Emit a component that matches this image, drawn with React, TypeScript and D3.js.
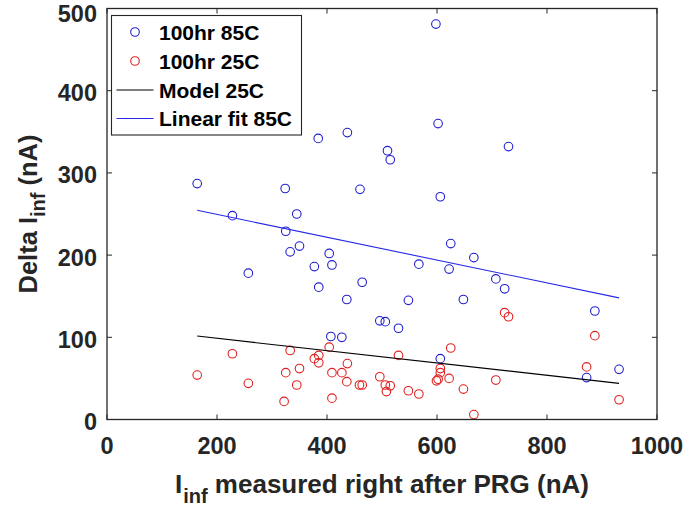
import React from "react";
import * as d3 from "d3";

const blue85x = [598, 602, 437, 384, 730, 510, 515, 164, 324, 460, 606, 345, 228, 325, 625, 350, 333, 404, 667, 409, 567, 377, 622, 257, 707, 464, 385, 723, 436, 548, 648, 887, 496, 506, 530, 407, 427, 606, 931, 872];
const blue85y = [481, 360, 349, 342, 332, 327, 316, 287, 281, 280, 271, 250, 248, 229, 214, 211, 204, 202, 197, 188, 189, 186, 183, 178, 171, 167, 161, 159, 146, 145, 146, 132, 120, 119, 111, 101, 100, 74, 61, 51];
const red25x = [164, 228, 257, 322, 325, 333, 345, 350, 377, 385, 385, 404, 409, 409, 427, 436, 437, 459, 464, 496, 506, 508, 515, 530, 548, 567, 599, 602, 606, 606, 622, 625, 648, 667, 707, 723, 730, 872, 887, 931];
const red25y = [54, 80, 44, 22, 57, 84, 42, 62, 74, 78, 69, 88, 57, 26, 57, 46, 68, 42, 42, 52, 42, 34, 41, 78, 35, 31, 47, 49, 57, 62, 50, 87, 37, 6, 48, 130, 125, 64, 102, 24];
const modelX = [164, 931];
const modelY = [101.5, 44];
const fitX = [164, 931];
const fitY = [254.5, 148];
const xTicks = [0, 200, 400, 600, 800, 1000];
const yTicks = [0, 100, 200, 300, 400, 500];
const legendLabels = ["100hr 85C", "100hr 25C", "Model 25C", "Linear fit 85C"];

const BLUE = "#1f1fd0";
const RED = "#e02020";
const LINEBLUE = "#2828e8";
const AX = "#262626";
const FONT = "'Liberation Sans', Arial, Helvetica, sans-serif";

export default function App() {
  const W = 685, H = 508;
  const x = d3.scaleLinear().domain([0, 1000]).range([107, 657]);
  const y = d3.scaleLinear().domain([0, 500]).range([419.5, 8.5]);
  const line = d3.line<[number, number]>().x((d) => x(d[0])).y((d) => y(d[1]));
  const modelPts = modelX.map((v, i) => [v, modelY[i]] as [number, number]);
  const fitPts = fitX.map((v, i) => [v, fitY[i]] as [number, number]);
  const tk = 5;
  const [x0, x1] = x.range();
  const [y0, y1] = y.range();
  const legX = 111.5, legY = 15.5, legW = 190, legH = 119.5;
  const rowY = [32, 61, 90, 118.5];

  return (
    <svg width={W} height={H} style={{ position: "absolute", left: 0, top: 0, background: "#fff" }} fontFamily={FONT}>
      <rect width={W} height={H} fill="#fff" />
      {/* data */}
      {blue85x.map((v, i) => (
        <circle key={"b" + i} cx={x(v)} cy={y(blue85y[i])} r={4.3} fill="none" stroke={BLUE} strokeWidth={1.1} />
      ))}
      {red25x.map((v, i) => (
        <circle key={"r" + i} cx={x(v)} cy={y(red25y[i])} r={4.3} fill="none" stroke={RED} strokeWidth={1.1} />
      ))}
      <path d={line(modelPts) || ""} fill="none" stroke="#000" strokeWidth={1.1} />
      <path d={line(fitPts) || ""} fill="none" stroke={LINEBLUE} strokeWidth={1.1} />
      {/* frame */}
      <rect x={x0} y={y1} width={x1 - x0} height={y0 - y1} fill="none" stroke={AX} strokeWidth={1.3} />
      {xTicks.map((t) => (
        <g key={"xt" + t}>
          <line x1={x(t)} x2={x(t)} y1={y0} y2={y0 - tk} stroke={AX} strokeWidth={1} />
          <line x1={x(t)} x2={x(t)} y1={y1} y2={y1 + tk} stroke={AX} strokeWidth={1} />
          <text x={x(t)} y={454} textAnchor="middle" fontSize={23.5} fontWeight="bold" fill={AX}>{t}</text>
        </g>
      ))}
      {yTicks.map((t) => (
        <g key={"yt" + t}>
          <line x1={x0} x2={x0 + tk} y1={y(t)} y2={y(t)} stroke={AX} strokeWidth={1} />
          <line x1={x1} x2={x1 - tk} y1={y(t)} y2={y(t)} stroke={AX} strokeWidth={1} />
          <text x={97} y={Math.max(y(t) + 10.5, 21.5)} textAnchor="end" fontSize={23.5} fontWeight="bold" fill={AX}>{t}</text>
        </g>
      ))}
      {/* axis labels */}
      <text x={(x0 + x1) / 2} y={493} textAnchor="middle" fontSize={26} fontWeight="bold" fill={AX}>
        <tspan>I</tspan>
        <tspan dy={10} dx={1} fontSize={20}>inf</tspan>
        <tspan dy={-10}> measured right after PRG (nA)</tspan>
      </text>
      <text transform={`translate(37,${(y0 + y1) / 2}) rotate(-90)`} textAnchor="middle" fontSize={25.5} fontWeight="bold" fill={AX}>
        <tspan>Delta I</tspan>
        <tspan dy={8} fontSize={20}>inf</tspan>
        <tspan dy={-8}> (nA)</tspan>
      </text>
      {/* legend */}
      <rect x={legX} y={legY} width={legW} height={legH} fill="#fff" stroke={AX} strokeWidth={1.1} />
      <circle cx={135} cy={rowY[0]} r={4.3} fill="none" stroke={BLUE} strokeWidth={1.1} />
      <circle cx={135} cy={rowY[1]} r={4.3} fill="none" stroke={RED} strokeWidth={1.1} />
      <line x1={116.5} x2={153.5} y1={rowY[2]} y2={rowY[2]} stroke="#000" strokeWidth={1.1} />
      <line x1={116.5} x2={153.5} y1={rowY[3]} y2={rowY[3]} stroke={LINEBLUE} strokeWidth={1.1} />
      {legendLabels.map((l, i) => (
        <text key={l} x={159} y={rowY[i] + 7.5} fontSize={21} fontWeight="bold" fill="#000">{l}</text>
      ))}
    </svg>
  );
}
